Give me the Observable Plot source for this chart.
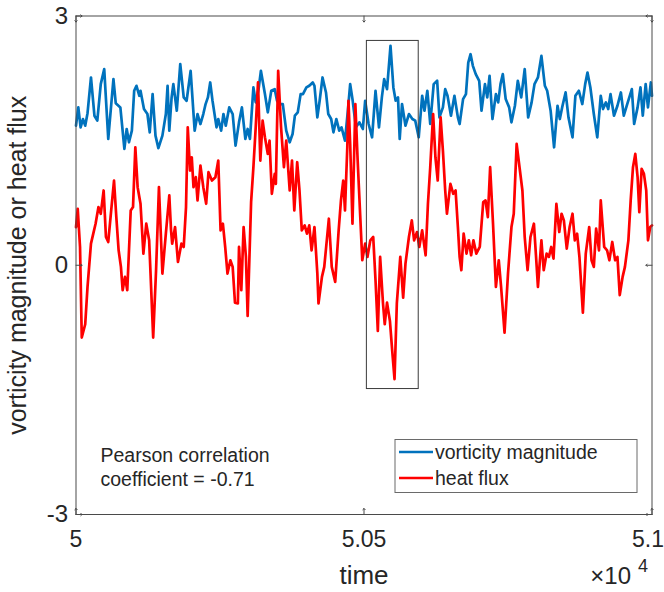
<!DOCTYPE html>
<html>
<head>
<meta charset="utf-8">
<script src="https://cdn.jsdelivr.net/npm/d3@7"></script>
<script src="https://cdn.jsdelivr.net/npm/@observablehq/plot@0.6"></script>
<style>
  html, body { margin: 0; padding: 0; background: #fff; }
  #chart svg { display: block; }
</style>
</head>
<body>
<div id="chart"></div>
<script>
// ---------------- data ----------------
const vortTime = [50000,50004,50008,50012,50016,50020,50026,50032,50037,50043,
50049,50056,50065,50069,50077,50084,50088,50092,50097,50101,
50105,50110,50112,50118,50124,50128,50133,50138,50143,50150,
50156,50159,50162,50166,50169,50175,50181,50187,50192,50199,
50206,50211,50216,50221,50225,50229,50233,50237,50244,50247,
50252,50256,50260,50266,50272,50277,50283,50288,50294,50298,
50302,50308,50312,50317,50321,50328,50333,50339,50345,50349,
50353,50359,50365,50371,50376,50380,50385,50390,50394,50400,
50405,50411,50414,50419,50423,50428,50434,50438,50443,50447,
50452,50457,50461,50467,50472,50476,50480,50486,50492,50498,
50502,50508,50514,50520,50526,50531,50535,50540,50546,50551,
50555,50559,50562,50566,50572,50578,50584,50589,50595,50601,
50605,50610,50615,50621,50627,50631,50637,50641,50645,50651,
50657,50663,50666,50672,50677,50681,50685,50689,50694,50700,
50704,50710,50714,50718,50723,50729,50733,50737,50741,50746,
50752,50756,50762,50767,50773,50779,50785,50791,50796,50802,
50808,50814,50818,50824,50830,50836,50840,50844,50850,50855,
50862,50867,50873,50879,50884,50888,50893,50899,50905,50911,
50915,50920,50924,50928,50934,50940,50946,50951,50957,50965,
50969,50975,50980,50984,50989,50993,50998,51000];
const vortValue = [1.68,1.90,1.66,1.76,1.68,1.83,2.26,1.80,1.74,2.18,
2.36,1.52,2.24,1.95,1.90,1.40,1.64,1.48,1.62,2.10,
2.16,2.04,2.10,1.88,1.82,1.60,2.06,1.56,1.41,1.56,
1.82,2.16,1.62,2.02,2.18,1.86,2.42,2.02,1.98,2.34,
1.62,1.82,1.70,1.82,1.94,2.02,2.20,1.98,1.66,1.76,
1.62,1.82,1.68,1.90,1.82,1.44,1.72,1.90,1.52,1.64,
1.52,2.14,1.96,2.12,2.34,2.06,1.84,2.10,2.12,1.98,
1.94,1.94,1.62,1.48,1.58,1.80,1.84,2.06,2.06,2.14,
2.16,2.20,2.16,1.78,1.98,2.26,2.08,1.82,1.76,1.60,
1.76,1.62,1.66,1.50,1.86,2.18,2.00,1.66,1.72,1.64,
1.98,1.70,1.54,2.10,1.66,2.02,2.24,2.12,2.64,2.14,
1.98,2.02,1.52,1.94,1.68,1.82,1.76,1.74,1.54,2.04,
1.86,2.10,1.70,2.18,2.22,1.78,1.90,2.12,2.04,1.80,
2.04,1.78,1.70,2.00,2.06,2.44,2.54,2.40,2.30,2.22,
1.86,2.18,2.02,2.28,1.76,2.06,1.96,2.18,2.30,2.00,
1.90,1.72,1.92,2.22,2.02,2.36,1.78,1.96,2.18,2.26,
2.52,2.16,2.10,1.86,1.42,1.92,1.76,1.90,2.08,1.78,
1.54,2.04,2.10,1.94,2.18,2.32,2.14,1.82,1.54,2.04,
1.88,1.96,1.88,2.06,1.80,1.92,2.08,1.80,1.94,2.12,
1.70,1.90,2.14,1.80,2.18,1.90,2.20,2.04];

const heatTime = [50000,50003,50007,50010,50016,50020,50026,50030,50034,50039,
50043,50048,50052,50056,50060,50066,50070,50074,50078,50081,
50085,50089,50095,50099,50103,50107,50112,50117,50122,50127,
50134,50139,50144,50150,50156,50162,50165,50167,50172,50177,
50183,50187,50191,50194,50198,50201,50204,50208,50211,50216,
50221,50226,50230,50236,50242,50247,50251,50255,50259,50263,
50268,50272,50276,50281,50283,50287,50291,50295,50298,50304,
50308,50312,50316,50320,50324,50328,50333,50336,50340,50345,
50347,50351,50356,50361,50365,50371,50375,50379,50384,50388,
50392,50397,50401,50405,50409,50414,50419,50421,50427,50431,
50439,50444,50450,50456,50460,50464,50467,50471,50473,50476,
50480,50485,50489,50497,50502,50506,50511,50516,50520,50524,
50528,50533,50536,50540,50545,50549,50553,50557,50563,50568,
50572,50578,50583,50587,50592,50596,50601,50607,50611,50615,
50620,50624,50628,50633,50637,50641,50644,50650,50655,50659,
50663,50666,50669,50673,50678,50682,50686,50690,50695,50701,
50707,50711,50715,50719,50724,50729,50734,50738,50744,50750,
50756,50760,50765,50770,50775,50779,50784,50789,50795,50798,
50802,50808,50812,50817,50821,50825,50829,50834,50839,50843,
50847,50852,50857,50862,50866,50870,50874,50880,50885,50891,
50895,50899,50903,50908,50911,50917,50922,50926,50931,50936,
50940,50944,50949,50953,50959,50963,50967,50971,50975,50978,
50982,50986,50990,50993,50997,51000];
const heatValue = [0.46,0.68,0.22,-0.87,-0.71,-0.26,0.26,0.38,0.50,0.70,
0.62,0.90,0.34,0.28,0.58,1.02,0.58,0.18,-0.02,-0.30,
-0.14,-0.30,0.66,0.70,1.42,0.94,0.74,0.14,0.50,0.30,
-0.87,-0.06,0.94,-0.10,0.38,0.84,0.42,0.26,0.46,0.04,
0.26,0.22,0.70,1.66,1.14,1.30,0.94,1.06,0.78,1.20,
0.94,0.74,1.12,1.02,1.06,1.26,0.42,0.50,0.22,-0.10,
0.06,-0.02,-0.45,-0.46,0.22,-0.30,0.46,0.10,-0.61,0.76,
1.18,1.66,2.20,1.26,1.74,1.54,1.34,1.50,0.86,1.10,
0.98,2.34,1.66,1.18,1.50,0.90,1.26,0.66,1.24,0.90,
0.42,0.48,0.38,0.48,0.18,0.46,-0.10,-0.46,-0.14,-0.02,
0.56,-0.02,-0.20,0.42,0.78,1.02,0.66,1.42,1.98,1.46,
0.50,1.94,1.26,0.06,0.26,0.10,0.30,0.34,-0.18,-0.79,
0.10,-0.46,-0.71,-0.45,-0.67,-1.03,-1.37,-0.46,0.10,-0.39,
0.02,0.34,0.54,0.30,0.40,0.22,0.42,0.12,0.74,1.18,
1.82,1.30,1.02,1.78,1.38,0.90,0.62,0.98,0.86,0.90,
0.46,0.10,-0.06,0.38,0.14,0.30,0.12,0.30,0.14,0.22,
0.76,0.78,0.58,1.18,0.50,-0.26,0.06,-0.26,-0.81,-0.10,
0.46,0.62,1.46,1.18,0.90,0.34,-0.06,0.34,0.50,0.18,
-0.26,0.30,-0.06,0.14,0.10,0.22,0.08,0.74,0.40,0.62,
0.54,0.20,0.46,0.62,0.30,0.38,0.10,-0.57,0.14,0.46,
0.06,-0.02,0.44,0.18,0.78,0.22,0.18,0.06,0.28,0.06,
0.10,-0.36,-0.14,-0.02,0.30,0.78,1.18,1.34,1.06,0.64,
1.16,1.10,0.90,0.30,0.46,0.48];

// highlighted window (box around the event)
const boxTime = [50505, 50595];
const boxValue = [-1.49, 2.70];

const xTicks = [50000, 50500, 51000];
const xTickLabels = ["5", "5.05", "5.1"];
const yTicks = [-3, 0, 3];
const yTickLabels = ["-3", "0", "3"];

const seriesNames = ["vorticity magnitude", "heat flux"];
const seriesColors = ["#0072BD", "#FF0000"];
const xLabel = "time";
const yLabel = "vorticity magnitude or heat flux";
const annotation = "Pearson correlation\ncoefficient = -0.71";

// ---------------- build ----------------
const vort = vortTime.map((t, i) => ({t, v: vortValue[i]}));
const heat = heatTime.map((t, i) => ({t, v: heatValue[i]}));
const box = [{t1: boxTime[0], t2: boxTime[1], v1: boxValue[0], v2: boxValue[1]}];

const ink = "#262626";
const font = "'Liberation Sans', Arial, Helvetica, sans-serif";
const tickLen = 6;
const xFmt = d => xTickLabels[xTicks.indexOf(d)];

const chart = Plot.plot({
  width: 664,
  height: 592,
  marginLeft: 75.5,
  marginRight: 12.5,
  marginTop: 15.5,
  marginBottom: 78,
  x: {domain: [50000, 51000]},
  y: {domain: [-3, 3]},
  style: {fontFamily: font, color: ink, background: "#fff", overflow: "visible"},
  marks: [
    Plot.line(vort, {x: "t", y: "v", stroke: seriesColors[0], strokeWidth: 2.7, strokeLinejoin: "round"}),
    Plot.line(heat, {x: "t", y: "v", stroke: seriesColors[1], strokeWidth: 2.7, strokeLinejoin: "round"}),
    Plot.rect(box, {x1: "t1", x2: "t2", y1: "v1", y2: "v2", fill: "none", stroke: "#3a3a3a", strokeWidth: 1}),
    Plot.frame({stroke: "#4a4a4a", strokeWidth: 1}),
    // inward tick marks on all four sides
    Plot.vector(xTicks, {x: d => d, frameAnchor: "bottom", rotate: 0, anchor: "start", length: tickLen, stroke: "#4a4a4a", strokeWidth: 1}),
    Plot.vector(xTicks, {x: d => d, frameAnchor: "top", rotate: 180, anchor: "start", length: tickLen, stroke: "#4a4a4a", strokeWidth: 1}),
    Plot.vector(yTicks, {y: d => d, frameAnchor: "left", rotate: 90, anchor: "start", length: tickLen, stroke: "#4a4a4a", strokeWidth: 1}),
    Plot.vector(yTicks, {y: d => d, frameAnchor: "right", rotate: -90, anchor: "start", length: tickLen, stroke: "#4a4a4a", strokeWidth: 1}),
    // tick labels (the last one nudged so it stays inside the page)
    Plot.axisX({ticks: xTicks.slice(0, 2), tickSize: 0, tickPadding: 16, fontSize: 23, label: null,
      tickFormat: xFmt, fill: ink}),
    Plot.axisX({ticks: xTicks.slice(2), tickSize: 0, tickPadding: 16, fontSize: 23, label: null,
      tickFormat: xFmt, fill: ink, dx: -4}),
    Plot.axisY({ticks: yTicks, tickSize: 0, tickPadding: 8, fontSize: 24, label: null,
      tickFormat: d => yTickLabels[yTicks.indexOf(d)], fill: ink}),
    // axis titles
    Plot.text([xLabel], {frameAnchor: "bottom", dy: 69, lineAnchor: "bottom", textAnchor: "middle", fontSize: 26, fill: ink}),
    Plot.text([yLabel], {frameAnchor: "left", dx: -58, rotate: -90, lineAnchor: "middle", textAnchor: "middle", fontSize: 25, fill: ink}),
    // exponent
    Plot.text(["\u00d710"], {frameAnchor: "bottom-right", dx: -21, dy: 69, lineAnchor: "bottom", textAnchor: "end", fontSize: 24, fill: ink}),
    Plot.text(["4"], {frameAnchor: "bottom-right", dx: -14, dy: 57, lineAnchor: "bottom", textAnchor: "start", fontSize: 18, fill: ink}),
    // annotation
    Plot.text([annotation], {frameAnchor: "bottom-left", dx: 24.5, dy: -29, lineAnchor: "bottom", textAnchor: "start", fontSize: 19.5, lineHeight: 1.22, fill: ink})
  ]
});

// legend inside the plot (bottom-right)
const svg = d3.select(chart);
const lg = svg.append("g").attr("font-family", font).attr("font-size", 19.5)
  .attr("fill", ink).attr("text-anchor", "start");
lg.append("rect").attr("x", 395).attr("y", 439.5).attr("width", 242).attr("height", 53)
  .attr("fill", "#fff").attr("stroke", "#6a6a6a").attr("stroke-width", 1);
seriesNames.forEach((name, i) => {
  const cy = 452 + i * 26;
  lg.append("line").attr("x1", 399).attr("x2", 433).attr("y1", cy).attr("y2", cy)
    .attr("stroke", seriesColors[i]).attr("stroke-width", 2.7);
  lg.append("text").attr("x", 435).attr("y", cy).attr("dy", "0.35em")
    .attr("text-anchor", "start").text(name);
});

document.getElementById("chart").appendChild(chart);
</script>
</body>
</html>
